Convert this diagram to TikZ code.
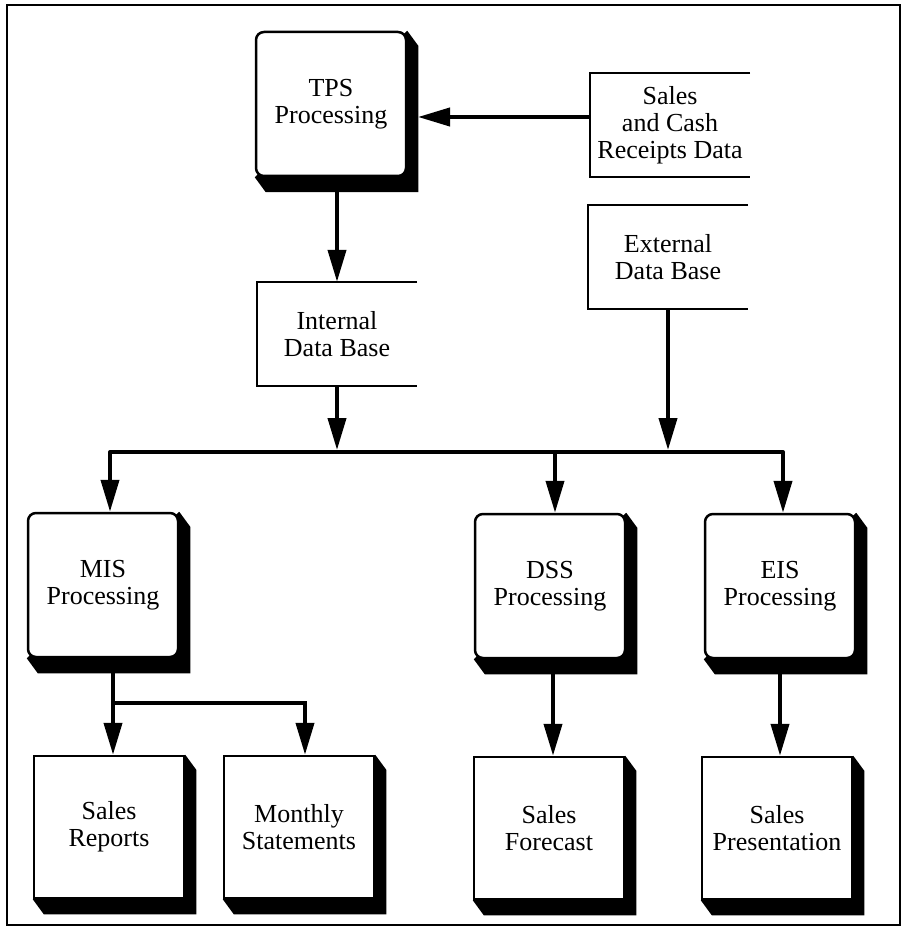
\documentclass[tikz,border=0pt]{standalone}
\usepackage{fontspec}
\setmainfont{Liberation Serif}
\usetikzlibrary{arrows.meta,backgrounds,calc}

\tikzset{
  every node/.style={font=\fontsize{26}{27}\selectfont, align=center},
  procbox/.style={draw, line width=2.5pt, fill=white, rounded corners=8pt,
                  inner sep=0pt, minimum width=150pt, minimum height=144pt},
  outbox/.style={draw, line width=2.5pt, fill=white, inner sep=0pt,
                 minimum width=150pt, minimum height=142pt},
  store/.style={inner sep=0pt, minimum width=160pt, minimum height=104pt},
  storeline/.style={line width=2pt},
  flow/.style={line width=4pt, -{Triangle[length=32pt,width=18pt]}},
  busline/.style={line width=4pt, line cap=round},
}

% solid 3-D extrusion behind a box (to the right and below)
\newcommand{\extrude}[1]{%
  \fill[black] (#1.north east) -- ++(11,15)
    -- ($(#1.south east)+(11,15)$) -- ($(#1.south west)+(11,15)$)
    -- (#1.south west) -- cycle;}

% open-right data store outline
\newcommand{\storeframe}[1]{%
  \draw[storeline] (#1.north east) -- (#1.north west)
    -- (#1.south west) -- (#1.south east);}

\begin{document}
\begin{tikzpicture}[x=1pt,y=-1pt]
\useasboundingbox (0,0) rectangle (903,933);

% outer frame
\draw[line width=2.5pt] (7,5) rectangle (900,925);

% processing boxes
\node[procbox] (tps) at (331,104) {TPS\\Processing};
\node[procbox] (mis) at (103,585) {MIS\\Processing};
\node[procbox] (dss) at (550,586) {DSS\\Processing};
\node[procbox] (eis) at (780,586) {EIS\\Processing};

% output boxes
\node[outbox] (rep)  at (109,827) {Sales\\Reports};
\node[outbox] (mon)  at (299,827) {Monthly\\Statements};
\node[outbox] (fore) at (549,828) {Sales\\Forecast};
\node[outbox] (pres) at (777,828) {Sales\\Presentation};

% data stores
\node[store] (sales) at (670,125) {Sales\\and Cash\\Receipts Data};
\node[store] (intl)  at (337,334) {Internal\\Data Base};
\node[store] (ext)   at (668,257) {External\\Data Base};
\storeframe{sales}
\storeframe{intl}
\storeframe{ext}

\begin{scope}[on background layer]
  \extrude{tps}
  \extrude{mis}
  \extrude{dss}
  \extrude{eis}
  \extrude{rep}
  \extrude{mon}
  \extrude{fore}
  \extrude{pres}
\end{scope}

% junction points of the connectors
\coordinate (tpsin)   at (418,117);
\coordinate (busL)    at (110,452);
\coordinate (busR)    at (783,452);
\coordinate (busD)    at (555,452);
\coordinate (misfork) at (113,703);

% input flows
\draw[flow] (sales.west |- tpsin) -- (tpsin);
\draw[flow] (tps.south -| intl.north) -- (intl.north);

% distribution bus
\draw[busline] (busL) -- (busR);
\draw[flow, shorten >=2pt] (intl.south) -- (intl.south |- busL);
\draw[flow, shorten >=2pt] (ext.south) -- (ext.south |- busL);
\draw[flow] (busL) -- (busL |- mis.north);
\draw[flow] (busD) -- (busD |- dss.north);
\draw[flow] (busR) -- (busR |- eis.north);

% outputs
\draw[flow] (mis.south -| misfork) -- (misfork |- rep.north);
\draw[flow] (misfork) -| ([xshift=6pt]mon.north);
\draw[flow] ([xshift=4pt]fore.north |- dss.south) -- ([xshift=4pt]fore.north);
\draw[flow] (eis.south) -- (eis.south |- pres.north);
\end{tikzpicture}
\end{document}
